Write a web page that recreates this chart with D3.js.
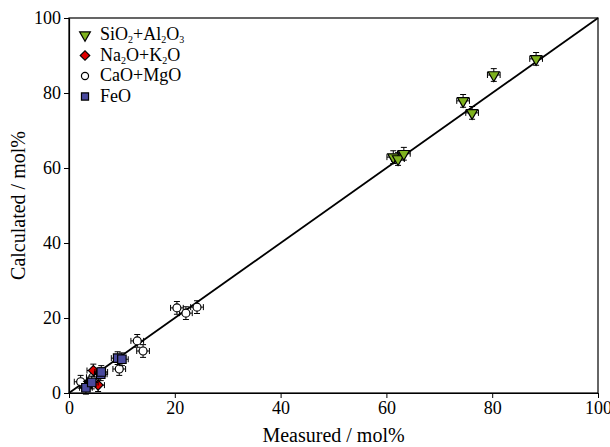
<!DOCTYPE html>
<html>
<head>
<meta charset="UTF-8">
<style>
  body { margin: 0; background: #fff; }
  svg text { font-family: "Liberation Serif", "Times New Roman", Times, serif !important; fill: #000; }
  .tick line, .domain { stroke: #000; }
</style>
</head>
<body>
<div id="chart"></div>
<script src="https://d3js.org/d3.v7.min.js"></script>
<script>
// measured (x) vs calculated (y), mol%
const sioX = [61.3, 62.2, 63.3, 74.5, 76.2, 80.3, 88.3];
const sioY = [62.9, 62.4, 63.8, 77.9, 74.7, 84.8, 89.1];
const naX = [4.6, 5.5];
const naY = [6.0, 2.1];
const caoX = [2.2, 4.5, 9.5, 12.9, 14.0, 20.4, 22.1, 24.2];
const caoY = [3.0, 4.2, 6.4, 13.9, 11.2, 22.7, 21.3, 22.9];
const feoX = [3.2, 4.3, 6.0, 6.1, 9.2, 10.0];
const feoY = [1.4, 2.8, 5.0, 5.6, 9.3, 9.0];
const errX = 1.2, errY = 1.7;
const ticks = [0, 20, 40, 60, 80, 100];

const width = 610, height = 447;
const margin = {top: 18, right: 12, bottom: 54, left: 69};
const serif = "'Liberation Serif', 'Times New Roman', Times, serif";

const svg = d3.select("#chart").append("svg")
  .attr("width", width).attr("height", height);

const x = d3.scaleLinear().domain([0, 100]).range([margin.left, width - margin.right]);
const y = d3.scaleLinear().domain([0, 100]).range([height - margin.bottom, margin.top]);

// frame
svg.append("rect")
  .attr("x", x(0)).attr("y", y(100))
  .attr("width", x(100) - x(0)).attr("height", y(0) - y(100))
  .attr("fill", "none").attr("stroke", "#000").attr("stroke-width", 1.2);

svg.append("g")
  .attr("transform", `translate(0,${y(0)})`)
  .call(d3.axisBottom(x).tickValues(ticks).tickSize(5).tickSizeOuter(0).tickPadding(3))
  .attr("font-family", serif).attr("font-size", 18)
  .call(g => g.select(".domain").attr("stroke-width", 1.2));

svg.append("g")
  .attr("transform", `translate(${x(0)},0)`)
  .call(d3.axisLeft(y).tickValues(ticks).tickSize(5).tickSizeOuter(0).tickPadding(3))
  .attr("font-family", serif).attr("font-size", 18)
  .call(g => g.select(".domain").attr("stroke-width", 1.2));

// 1:1 line
svg.append("line")
  .attr("x1", x(0)).attr("y1", y(0)).attr("x2", x(100)).attr("y2", y(100))
  .attr("stroke", "#000").attr("stroke-width", 1.8);

function errorBars(xs, ys) {
  const g = svg.append("g").attr("stroke", "#000").attr("stroke-width", 1);
  xs.forEach((v, i) => {
    const cx = x(v), cy = y(ys[i]);
    const x0 = x(v - errX), x1 = x(v + errX);
    const y0 = y(ys[i] - errY), y1 = y(ys[i] + errY);
    g.append("line").attr("x1", x0).attr("x2", x1).attr("y1", cy).attr("y2", cy);
    g.append("line").attr("x1", cx).attr("x2", cx).attr("y1", y0).attr("y2", y1);
    g.append("line").attr("x1", x0).attr("x2", x0).attr("y1", cy - 3).attr("y2", cy + 3);
    g.append("line").attr("x1", x1).attr("x2", x1).attr("y1", cy - 3).attr("y2", cy + 3);
    g.append("line").attr("x1", cx - 3).attr("x2", cx + 3).attr("y1", y0).attr("y2", y0);
    g.append("line").attr("x1", cx - 3).attr("x2", cx + 3).attr("y1", y1).attr("y2", y1);
  });
}

const series = [
  {xs: caoX, ys: caoY, shape: d3.symbolCircle, size: 50, fill: "#fff", rot: 0},
  {xs: naX, ys: naY, shape: d3.symbolSquare, size: 50, fill: "#e00000", rot: 45},
  {xs: feoX, ys: feoY, shape: d3.symbolSquare, size: 72, fill: "#4a4a9e", rot: 0},
  {xs: sioX, ys: sioY, shape: d3.symbolTriangle, size: 55, fill: "#7fb21e", rot: 180}
];

series.forEach(s => {
  errorBars(s.xs, s.ys);
  svg.append("g").selectAll("path").data(s.xs).join("path")
    .attr("d", d3.symbol(s.shape, s.size))
    .attr("transform", (d, i) => `translate(${x(d)},${y(s.ys[i])}) rotate(${s.rot})`)
    .attr("fill", s.fill).attr("stroke", "#000").attr("stroke-width", 1.2);
});

// legend
const legend = [
  {shape: d3.symbolTriangle, size: 50, fill: "#7fb21e", rot: 180, parts: [["SiO", 0], ["2", 1], ["+Al", 0], ["2", 1], ["O", 0], ["3", 1]]},
  {shape: d3.symbolSquare, size: 45, fill: "#e00000", rot: 45, parts: [["Na", 0], ["2", 1], ["O+K", 0], ["2", 1], ["O", 0]]},
  {shape: d3.symbolCircle, size: 40, fill: "#fff", rot: 0, parts: [["CaO+MgO", 0]]},
  {shape: d3.symbolSquare, size: 50, fill: "#4a4a9e", rot: 0, parts: [["FeO", 0]]}
];
legend.forEach((l, i) => {
  const ly = 35 + i * 20.5;
  svg.append("path")
    .attr("d", d3.symbol(l.shape, l.size))
    .attr("transform", `translate(85,${ly}) rotate(${l.rot})`)
    .attr("fill", l.fill).attr("stroke", "#000").attr("stroke-width", 1.2);
  const t = svg.append("text").attr("x", 100).attr("y", ly + 5)
    .attr("font-size", 18).attr("font-family", serif);
  l.parts.forEach((p, j) => {
    const ts = t.append("tspan").text(p[0]);
    if (p[1]) ts.attr("font-size", 10).attr("dy", 3);
    else if (j > 0 && l.parts[j - 1][1]) ts.attr("dy", -3);
  });
});

svg.append("text")
  .attr("x", (x(0) + x(100)) / 2).attr("y", 442)
  .attr("text-anchor", "middle").attr("font-size", 20).attr("font-family", serif)
  .text("Measured / mol%");

svg.append("text")
  .attr("transform", `translate(25,${(y(0) + y(100)) / 2}) rotate(-90)`)
  .attr("text-anchor", "middle").attr("font-size", 20).attr("font-family", serif)
  .text("Calculated / mol%");
</script>
</body>
</html>
